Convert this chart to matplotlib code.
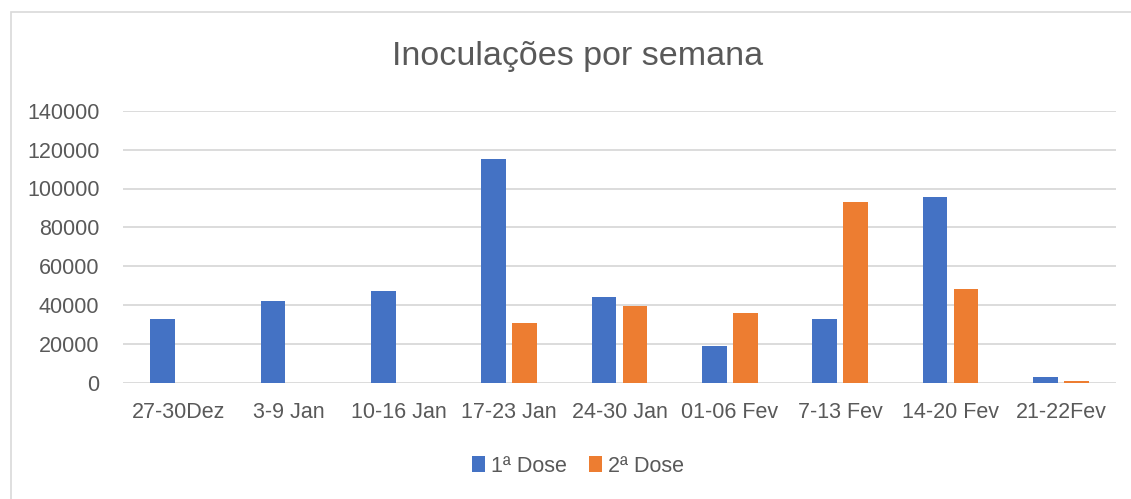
import matplotlib
matplotlib.use("Agg")
import matplotlib.pyplot as plt
import numpy as np
from matplotlib.patches import Rectangle

categories = ["27-30Dez", "3-9 Jan", "10-16 Jan", "17-23 Jan", "24-30 Jan",
              "01-06 Fev", "7-13 Fev", "14-20 Fev", "21-22Fev"]
dose1 = [32800, 42200, 47500, 115400, 44400, 18900, 32800, 95400, 2900]
dose2 = [0, 0, 0, 30700, 39600, 36000, 93000, 48200, 900]
yticks = [0, 20000, 40000, 60000, 80000, 100000, 120000, 140000]

BLUE = "#4472C4"
ORANGE = "#ED7D31"
GRID = "#D9D9D9"
TXT = "#595959"

plt.rcParams['font.family'] = ['Liberation Sans', 'DejaVu Sans']

W, H = 1131, 499
fig = plt.figure(figsize=(W / 100, H / 100), dpi=100)
fig.patch.set_facecolor("white")

# chart border
fig.add_artist(Rectangle((11 / W, -0.1), 1.2, (H - 12) / H + 0.1,
                         transform=fig.transFigure, fill=False,
                         edgecolor=GRID, linewidth=1.2))

ax = fig.add_axes([123 / W, 1 - 383 / H, (1116 - 123) / W, (383 - 110.7) / H])
x = np.arange(len(categories))
w = 0.224
off = 0.1415
ax.bar(x - off, dose1, w, color=BLUE, label="1ª Dose", zorder=3)
ax.bar(x + off, dose2, w, color=ORANGE, label="2ª Dose", zorder=3)

ax.set_xlim(-0.5, len(categories) - 0.5)
ax.set_ylim(0, 140000)
ax.set_yticks(yticks)
ax.set_yticklabels([str(v) for v in yticks])
ax.set_xticks(x)
ax.set_xticklabels(categories)
ax.tick_params(axis="both", length=0, labelsize=15.5, colors=TXT)
ax.tick_params(axis="x", pad=14)
ax.tick_params(axis="y", pad=17)
ax.grid(axis="y", color=GRID, linewidth=1.3, zorder=0)
for s in ax.spines.values():
    s.set_visible(False)

fig.text(578 / W, 1 - 57 / H, "Inoculações por semana", ha="center", va="center",
         fontsize=24.5, color=TXT)

leg = fig.legend(loc="center", bbox_to_anchor=(578 / W, 1 - 466 / H), ncol=2,
                 frameon=False, fontsize=15.5, handlelength=0.6, handleheight=0.8,
                 handletextpad=0.3, columnspacing=1.0, labelcolor=TXT)

fig.savefig("out.png", dpi=100)
